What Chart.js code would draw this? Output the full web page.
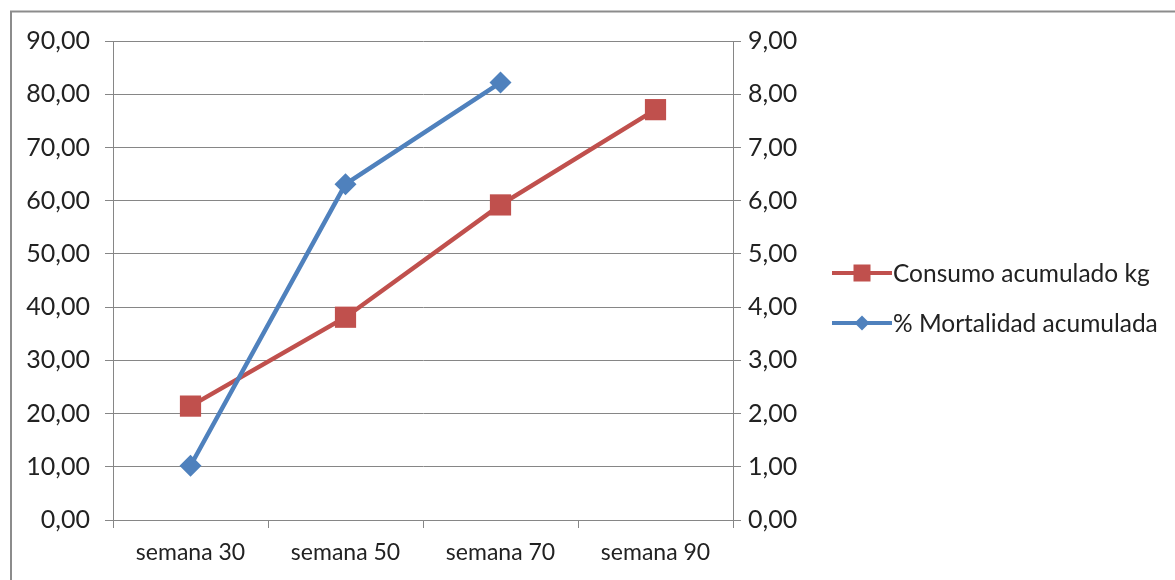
<!DOCTYPE html>
<html>
<head>
<meta charset="utf-8">
<script src="https://cdn.jsdelivr.net/npm/chart.js@4.4.1/dist/chart.umd.min.js"></script>
<style>
  html, body { margin: 0; padding: 0; background: #fff; }
  #wrap { width: 1175px; height: 580px; position: relative; }
</style>
</head>
<body>
<div id="wrap"><canvas id="grafico" width="1175" height="580"></canvas></div>
<script>
// datos
const semanas = ["semana 30", "semana 50", "semana 70", "semana 90"];
const consumoKg = [21.4, 38.1, 59.2, 77.1];
const mortalidad = [1.02, 6.31, 8.22, null];

const ROJO = "#C0504D";
const AZUL = "#4F81BD";
const GRIS = "#868686";
const FUENTE = "Lato, 'Open Sans', sans-serif";

// formato 0,00
const coma = (v) => Number(v).toFixed(2).replace(".", ",");

// marco gris y leyenda propia (línea + marcador)
const marcoYLeyenda = {
  id: "marcoYLeyenda",
  beforeDraw(chart) {
    const ctx = chart.ctx;
    ctx.save();
    ctx.strokeStyle = "#8c8c8c";
    ctx.lineWidth = 2;
    ctx.beginPath();
    ctx.moveTo(11, 580);
    ctx.lineTo(11, 11.5);
    ctx.lineTo(1175, 11.5);
    ctx.stroke();
    ctx.restore();
  },
  afterDraw(chart) {
    const ctx = chart.ctx;
    const items = [
      { ds: chart.data.datasets[0], y: 273 },
      { ds: chart.data.datasets[1], y: 323 },
    ];
    ctx.save();
    items.forEach(({ ds, y }) => {
      ctx.strokeStyle = ds.borderColor;
      ctx.lineWidth = 4;
      ctx.beginPath();
      ctx.moveTo(832, y);
      ctx.lineTo(892, y);
      ctx.stroke();
      ctx.fillStyle = ds.borderColor;
      if (ds.pointStyle === "rect") {
        ctx.fillRect(862 - 8.5, y - 8.5, 17, 17);
      } else {
        ctx.beginPath();
        ctx.moveTo(862, y - 7.5);
        ctx.lineTo(869.5, y);
        ctx.lineTo(862, y + 7.5);
        ctx.lineTo(854.5, y);
        ctx.closePath();
        ctx.fill();
      }
      ctx.fillStyle = "#222";
      ctx.font = "24.5px " + FUENTE;
      ctx.textBaseline = "middle";
      ctx.textAlign = "left";
      ctx.fillText(ds.label, 893, y + 1);
    });
    ctx.restore();
  },
};

const grafico = document.getElementById("grafico");
new Chart(grafico, {
  type: "line",
  data: {
    labels: semanas,
    datasets: [
      {
        label: "Consumo acumulado kg",
        data: consumoKg,
        yAxisID: "y",
        borderColor: ROJO,
        backgroundColor: ROJO,
        borderWidth: 4.5,
        pointStyle: "rect",
        pointRadius: 15,
        pointHoverRadius: 15,
        pointBorderWidth: 0,
        order: 2,
      },
      {
        label: "% Mortalidad acumulada",
        data: mortalidad,
        yAxisID: "y1",
        borderColor: AZUL,
        backgroundColor: AZUL,
        borderWidth: 4.5,
        pointStyle: "rectRot",
        pointRadius: 11,
        pointHoverRadius: 11,
        pointBorderWidth: 0,
        order: 1,
      },
    ],
  },
  options: {
    responsive: false,
    animation: false,
    devicePixelRatio: 1,
    layout: { padding: { top: 41, left: 0, right: 0, bottom: 0 } },
    plugins: {
      legend: { display: false },
      tooltip: { enabled: false },
    },
    scales: {
      x: {
        offset: true,
        grid: { offset: true, drawOnChartArea: false, tickLength: 8, color: GRIS },
        border: { color: GRIS, width: 1 },
        ticks: { font: { size: 23, family: FUENTE }, color: "#222", padding: 11 },
        afterFit: (s) => { s.height = 60; },
      },
      y: {
        position: "left",
        min: 0,
        max: 90,
        ticks: {
          stepSize: 10,
          font: { size: 25, family: FUENTE },
          color: "#222",
          padding: 15,
          callback: (v) => coma(v),
        },
        grid: { color: GRIS, tickLength: 8 },
        border: { color: GRIS, width: 1 },
        afterFit: (s) => { s.width = 113; },
      },
      y1: {
        position: "right",
        min: 0,
        max: 9,
        ticks: {
          stepSize: 1,
          font: { size: 25, family: FUENTE },
          color: "#222",
          padding: 7,
          callback: (v) => coma(v),
        },
        grid: { drawOnChartArea: false, color: GRIS, tickLength: 8 },
        border: { color: GRIS, width: 1 },
        afterFit: (s) => { s.width = 442; },
      },
    },
  },
  plugins: [marcoYLeyenda],
});
</script>
</body>
</html>
